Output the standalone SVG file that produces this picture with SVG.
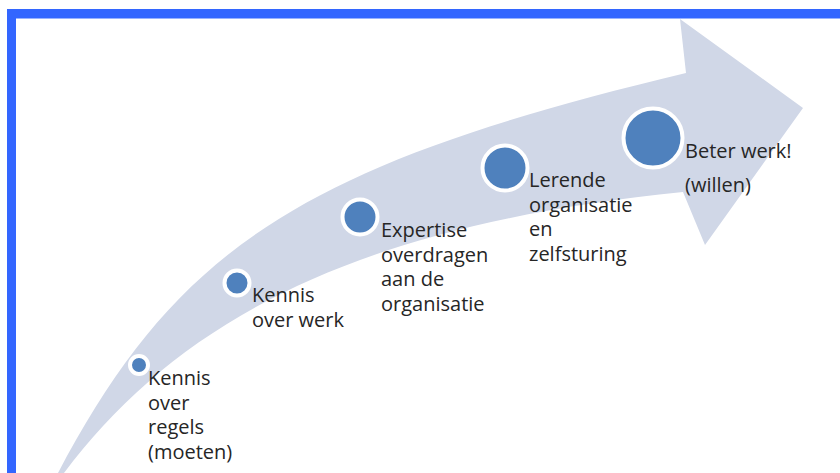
<svg xmlns="http://www.w3.org/2000/svg" width="840" height="473" viewBox="0 0 840 473">
  <style>
    .frame { fill: #3366ff; }
    .band { fill: #d0d7e7; }
    .dot { fill: #4f81bd; stroke: #ffffff; stroke-width: 4; }
    .lbl { font-family: "Open Sans", "Liberation Sans", sans-serif; font-size: 20px; fill: #262626; }
  </style>
  <rect x="0" y="0" width="840" height="473" fill="#ffffff"/>
  <g id="frame">
    <rect class="frame" x="7" y="9" width="833" height="9.5"/>
    <rect class="frame" x="7" y="9" width="9" height="464"/>
  </g>
  <g id="arrow">
    <path class="band" d="M 58,473 C 178,245 306,164 686,73 L 680,19 L 803,108 L 705,245 L 683,192 C 355,225 178,321 64,473 Z"/>
  </g>
  <g id="step1">
    <circle class="dot" cx="139" cy="365" r="9"/>
    <text class="lbl" x="148" y="385">Kennis</text>
    <text class="lbl" x="148" y="409.5">over</text>
    <text class="lbl" x="148" y="434">regels</text>
    <text class="lbl" x="148" y="458.5">(moeten)</text>
  </g>
  <g id="step2">
    <circle class="dot" cx="237" cy="283" r="12.5"/>
    <text class="lbl" x="252" y="302">Kennis</text>
    <text class="lbl" x="252" y="326.5">over werk</text>
  </g>
  <g id="step3">
    <circle class="dot" cx="360" cy="217" r="17.5"/>
    <text class="lbl" x="381" y="237">Expertise</text>
    <text class="lbl" x="381" y="261.5">overdragen</text>
    <text class="lbl" x="381" y="286">aan de</text>
    <text class="lbl" x="381" y="310.5">organisatie</text>
  </g>
  <g id="step4">
    <circle class="dot" cx="505" cy="168" r="22.5"/>
    <text class="lbl" x="529" y="187">Lerende</text>
    <text class="lbl" x="529" y="211.5">organisatie</text>
    <text class="lbl" x="529" y="236">en</text>
    <text class="lbl" x="529" y="260.5">zelfsturing</text>
  </g>
  <g id="step5">
    <circle class="dot" cx="653" cy="138" r="29.5"/>
    <text class="lbl" x="685" y="158">Beter werk!</text>
    <text class="lbl" x="685" y="192">(willen)</text>
  </g>
  <g id="connectors"></g>
</svg>
